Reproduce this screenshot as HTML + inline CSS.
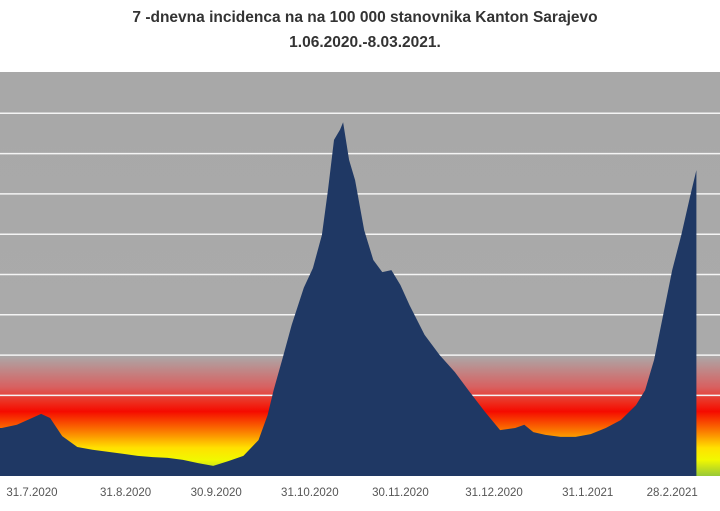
<!DOCTYPE html>
<html><head><meta charset="utf-8"><style>
body{margin:0;background:#fff;width:720px;height:506px;overflow:hidden;font-family:"Liberation Sans",sans-serif}
</style></head><body>
<svg width="720" height="506">
<defs>
<linearGradient id="bg" x1="0" y1="72" x2="0" y2="476" gradientUnits="userSpaceOnUse">
<stop offset="0" stop-color="#a8a8a8"/>
<stop offset="0.70" stop-color="#aaa"/>
<stop offset="0.78" stop-color="#d86060"/>
<stop offset="0.82" stop-color="#ee2a1a"/>
<stop offset="0.84" stop-color="#f50a00"/>
<stop offset="0.89" stop-color="#fb7d00"/>
<stop offset="0.93" stop-color="#ffe000"/>
<stop offset="0.96" stop-color="#f2f800"/>
<stop offset="1" stop-color="#98c838"/>
</linearGradient>
</defs>
<text x="365" y="22" text-anchor="middle" font-size="15.5" font-weight="bold" fill="#333">7 -dnevna incidenca na na 100 000 stanovnika Kanton Sarajevo</text>
<text x="365" y="47" text-anchor="middle" font-size="15.5" font-weight="bold" fill="#333">1.06.2020.-8.03.2021.</text>
<rect x="0" y="72" width="720" height="404" fill="url(#bg)"/>
<g id="grid"></g>
<path id="area" fill="#1f3864"/>
<g id="xlab"></g>
</svg>
<script>
const days=[50,55,60,63,66,70,75,80,85,90,95,100,105,110,115,120,125,130,135,138,140,143,146,150,153,156,158,160,162,163,165,167,170,173,176,179,182,185,190,195,200,205,210,215,220,223,226,230,235,240,245,250,255,260,263,266,269,272,275,278,280];
const values=[119,127,144,154,144,99,72,65,60,55,50,47,45,40,32,25,37,50,89,151,213,293,375,467,516,598,710,834,859,878,784,734,610,536,506,511,474,424,350,300,258,208,159,114,119,127,109,102,97,97,104,119,139,176,213,288,400,511,598,697,759];
const tickDays=[60,91,121,152,182,213,244,272];
const tickLabels=["31.7.2020","31.8.2020","30.9.2020","31.10.2020","30.11.2020","31.12.2020","31.1.2021","28.2.2021"];
const gridVals=[200,300,400,500,600,700,800,900];
const X=d=>32+(d-60)*3.02, Y=v=>476-v*0.403;
const ns="http://www.w3.org/2000/svg";
const g=document.getElementById('grid');
gridVals.forEach(v=>{const l=document.createElementNS(ns,'line');
l.setAttribute('x1',0);l.setAttribute('x2',720);l.setAttribute('y1',Y(v));l.setAttribute('y2',Y(v));
l.setAttribute('stroke','#f4f4f4');l.setAttribute('stroke-width','1.5');


g.appendChild(l);});
let d='M'+X(days[0]-2)+',476 L'+X(days[0]-2)+','+Y(values[0]);
days.forEach((dd,i)=>{d+=' L'+X(dd).toFixed(1)+','+Y(values[i]).toFixed(1);});
d+=' L'+X(days[days.length-1])+',476 Z';
document.getElementById('area').setAttribute('d',d);
const xl=document.getElementById('xlab');
tickDays.forEach((t,i)=>{const s=document.createElementNS(ns,'text');
s.setAttribute('x',X(t));s.setAttribute('y',496);s.setAttribute('text-anchor','middle');
s.setAttribute('font-size','11.5');s.setAttribute('fill','#555');s.textContent=tickLabels[i];


xl.appendChild(s);});
</script>
</body></html>
